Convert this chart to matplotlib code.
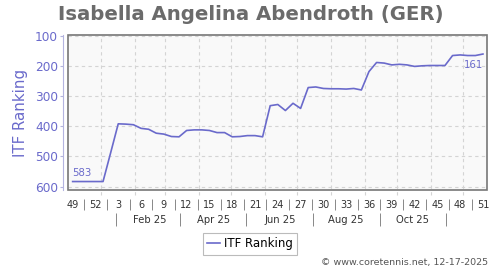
import matplotlib
matplotlib.use("Agg")
import matplotlib.pyplot as plt
import matplotlib.dates as mdates
from matplotlib.patches import Rectangle
import pandas as pd

# weekly ITF ranking, week 49/2024 .. week 51/2025
weeks = pd.date_range("2024-12-06", periods=55, freq="7D")
ranking = [583, 583, 583, 583, 583, 488, 392, 393, 395, 407,
           410, 423, 426, 434, 435, 414, 412, 412, 414, 421,
           421, 435, 434, 431, 431, 435, 332, 328, 348, 324,
           341, 272, 270, 275, 276, 276, 277, 275, 280, 219,
           189, 191, 197, 195, 197, 202, 200, 199, 199, 199,
           166, 164, 166, 166, 161]
week_labels = ["49", "52", "3", "6", "9", "12", "15", "18", "21", "24",
               "27", "30", "33", "36", "39", "42", "45", "48", "51"]
month_labels = ["Feb 25", "Apr 25", "Jun 25", "Aug 25", "Oct 25"]
month_label_dates = pd.to_datetime(["2025-02-15", "2025-04-15", "2025-06-15",
                                    "2025-08-15", "2025-10-15"])
month_sep_dates = pd.to_datetime(["2025-01-15", "2025-03-15", "2025-05-15",
                                  "2025-07-15", "2025-09-15", "2025-11-15"])
month_starts = pd.date_range("2025-01-01", "2025-12-01", freq="MS")
yticks = [100, 200, 300, 400, 500, 600]

blue = "#6a6acb"
grid_c = "#d4d4d4"

fig = plt.figure(figsize=(5, 2.7), dpi=100)
ax = fig.add_axes([0.1366, 0.2963, 0.838, 0.573])
ax.set_facecolor("#f9f9f9")

ax.plot(weeks, ranking, color=blue, lw=1.2, zorder=3)

ax.set_xlim(weeks[0] - pd.Timedelta(days=4), weeks[-1] + pd.Timedelta(days=4))
ax.set_ylim(611, 99)

# grid
ax.set_yticks(yticks)
ax.yaxis.grid(True, color=grid_c, ls=(0, (3, 3)), lw=0.8)
ax.vlines(month_starts, -0.035, 1, transform=ax.get_xaxis_transform(),
          colors=grid_c, linestyles=(0, (3, 3)), lw=0.8, clip_on=False, zorder=1)

# frame
ax.add_patch(Rectangle((0, 0), 1, 1, transform=ax.transAxes, fill=False,
                       ec="#777777", lw=1.2, zorder=4, clip_on=False))
for s in ["top", "right", "bottom"]:
    ax.spines[s].set_visible(False)
ax.spines["left"].set_position(("outward", 3.6))
ax.spines["left"].set_color("#b4b4e0")
ax.tick_params(axis="y", colors=blue, labelsize=8.7, length=2.2, width=0.8,
               pad=1.5, color="#b4b4e0")

# week tick labels
ax.set_xticks(weeks[::3], week_labels)
ax.tick_params(axis="x", length=0, labelsize=7, labelcolor="#333333", pad=7.5)
seps = weeks[:-3:3] + pd.Timedelta(days=10.5)
ax.vlines(seps, -0.06, -0.13, transform=ax.get_xaxis_transform(),
          colors="#888888", lw=0.7, clip_on=False)

# month row
for d, lab in zip(month_label_dates, month_labels):
    ax.text(d, -0.195, lab, transform=ax.get_xaxis_transform(), ha="center",
            va="center", fontsize=7.2, color="#333333")
ax.vlines(month_sep_dates, -0.15, -0.235, transform=ax.get_xaxis_transform(),
          colors="#888888", lw=0.7, clip_on=False)

# end labels
ax.annotate(str(ranking[0]), (weeks[0], ranking[0]), xytext=(0, 2.6),
            textcoords="offset points", ha="left", va="bottom",
            fontsize=7.3, color=blue)
ax.annotate(str(ranking[-1]), (weeks[-1], ranking[-1]), xytext=(0, -4),
            textcoords="offset points", ha="right", va="top",
            fontsize=7.3, color=blue)

fig.text(0.502, 1 - 15 / 270, "Isabella Angelina Abendroth (GER)", ha="center",
         va="center", fontsize=14.2, fontweight="bold", color="#6b6b6b")
fig.text(21 / 500, 1 - 112.5 / 270, "ITF Ranking", rotation=90, ha="center",
         va="center", fontsize=10.8, color=blue)

leg = fig.legend(["ITF Ranking"], loc="center", bbox_to_anchor=(0.5, 1 - 244 / 270),
                 fontsize=8.5, fancybox=False, edgecolor="#aaaaaa",
                 handlelength=1.1, handletextpad=0.4, borderpad=0.35)
leg.get_frame().set_linewidth(0.8)

fig.text(0.976, 1 - 262 / 270, "\u00a9 www.coretennis.net, 12-17-2025", ha="right",
         va="center", fontsize=6.8, color="#555555")

fig.savefig("out.png", dpi=100)
